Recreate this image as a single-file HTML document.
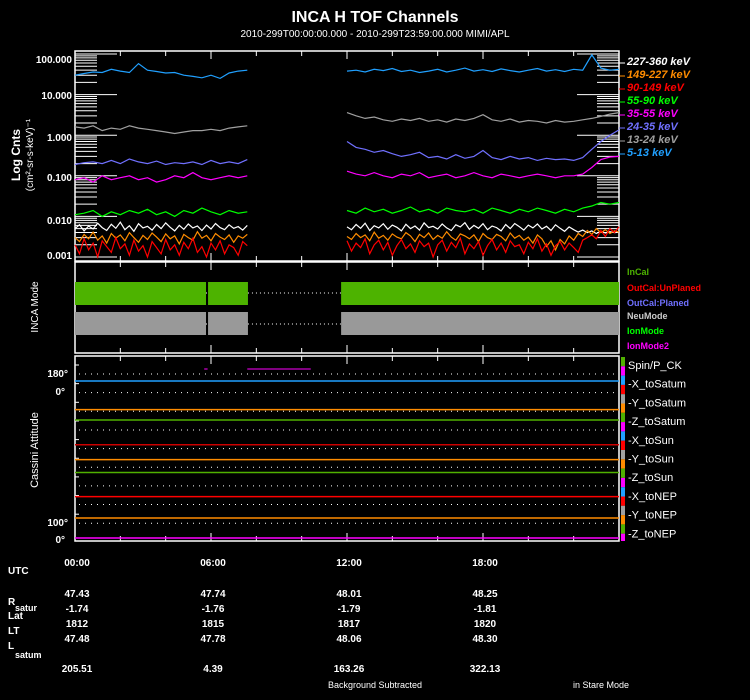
<!DOCTYPE html>
<html><head><meta charset="utf-8"><style>
html,body{margin:0;padding:0;background:#000;}
svg{display:block;font-family:"Liberation Sans",sans-serif;}
</style></head><body>
<svg id="c" width="750" height="700" viewBox="0 0 750 700" xmlns="http://www.w3.org/2000/svg">
<rect width="750" height="700" fill="#000"/>
<text x="375" y="22" fill="#fff" font-size="16" font-weight="bold" text-anchor="middle">INCA H TOF Channels</text>
<text x="375" y="37" fill="#fff" font-size="10" text-anchor="middle">2010-299T00:00:00.000 - 2010-299T23:59:00.000 MIMI/APL</text>
<g id="g"></g>
<text transform="translate(20,155) rotate(-90)" fill="#fff" font-size="12" font-weight="bold" text-anchor="middle">Log Cnts</text>
<text transform="translate(33,155) rotate(-90)" fill="#fff" font-size="10" text-anchor="middle">(cm²-sr-s-keV)⁻¹</text>
<text transform="translate(38,307) rotate(-90)" fill="#fff" font-size="10" text-anchor="middle">INCA Mode</text>
<text transform="translate(38,450) rotate(-90)" fill="#fff" font-size="11" text-anchor="middle">Cassini Attitude</text>
<g fill="#fff" font-size="10" font-weight="bold" text-anchor="end">
<text x="72" y="63">100.000</text><text x="72" y="99">10.000</text><text x="72" y="141">1.000</text><text x="72" y="181">0.100</text><text x="72" y="224">0.010</text><text x="72" y="259">0.001</text></g>
<g fill="#fff" font-size="10" font-weight="bold" text-anchor="end">
<text x="68" y="377">180°</text><text x="65" y="395">0°</text><text x="68" y="526">100°</text><text x="65" y="543">0°</text></g>
<g fill="#fff" font-size="10" font-weight="bold">
<text x="8" y="574">UTC</text>
<text x="8" y="605">R</text><text x="15" y="611" font-size="9">satur</text>
<text x="8" y="619">Lat</text><text x="8" y="634">LT</text>
<text x="8" y="649">L</text><text x="15" y="658" font-size="9">satum</text>
</g>
<g id="tbl" fill="#fff" font-size="10" font-weight="bold" text-anchor="middle"></g>
<text x="375" y="688" fill="#fff" font-size="9" text-anchor="middle">Background Subtracted</text>
<text x="601" y="688" fill="#fff" font-size="9" text-anchor="middle">in Stare Mode</text>
</svg>
<script>
const hours=[0,0.4,0.8,1.2,1.6,2,2.4,2.8,3.2,3.6,4,4.4,4.8,5.2,5.6,6,6.4,6.8,7.2,7.6,
12,12.4,12.8,13.2,13.6,14,14.4,14.8,15.2,15.6,16,16.4,16.8,17.2,17.6,18,18.4,18.8,19.2,19.6,20,20.4,20.8,21.2,21.6,22,22.4,22.8,23.2,23.6,24];
const ch5_13=[30,33,36,35,42,38,35,58,40,37,34,35,30,28,26,30,25,34,38,40, 38,40,36,42,39,44,37,40,35,38,42,36,40,45,38,41,37,43,39,36,40,44,38,41,37,42,40,95,45,40,42];
const ch13_24=[1.6,1.5,1.7,1.3,1.5,1.4,1.7,1.5,1.4,1.3,1.2,1.1,1.2,1.3,1.3,1.4,1.3,1.5,1.6,1.7, 3.6,3.0,2.6,2.8,2.4,2.2,2.5,2.3,2.6,2.2,2.4,2.1,2.5,2.3,2.6,3.2,2.4,2.2,2.5,2.1,2.3,2.2,2.0,2.3,2.1,2.2,2.4,2.6,2.9,3.3,3.6];
const ch24_35=[0.19,0.21,0.22,0.2,0.24,0.2,0.26,0.22,0.2,0.23,0.19,0.21,0.2,0.22,0.19,0.24,0.2,0.22,0.2,0.25, 0.7,0.5,0.45,0.38,0.42,0.35,0.3,0.33,0.38,0.28,0.3,0.26,0.33,0.27,0.3,0.42,0.28,0.25,0.3,0.26,0.28,0.24,0.27,0.25,0.26,0.24,0.28,0.45,0.7,1.0,1.35];
const ch35_55=[0.08,0.09,0.07,0.1,0.08,0.09,0.1,0.08,0.09,0.07,0.08,0.1,0.09,0.12,0.09,0.08,0.09,0.1,0.09,0.1, 0.13,0.11,0.1,0.12,0.1,0.09,0.11,0.1,0.12,0.09,0.1,0.11,0.09,0.1,0.12,0.1,0.09,0.11,0.1,0.09,0.1,0.11,0.1,0.09,0.1,0.1,0.11,0.16,0.25,0.29,0.3];
const ch55_90=[0.011,0.012,0.014,0.01,0.013,0.011,0.014,0.012,0.015,0.011,0.013,0.01,0.014,0.012,0.016,0.013,0.011,0.014,0.012,0.013, 0.014,0.012,0.016,0.013,0.015,0.012,0.014,0.017,0.013,0.015,0.012,0.016,0.014,0.013,0.015,0.012,0.016,0.014,0.012,0.015,0.013,0.016,0.014,0.012,0.015,0.013,0.016,0.018,0.022,0.02,0.022];
const fineHoursA=[0,0.2,0.4,0.6,0.8,1,1.2,1.4,1.6,1.8,2,2.2,2.4,2.6,2.8,3,3.2,3.4,3.6,3.8,4,4.2,4.4,4.6,4.8,5,5.2,5.4,5.6,5.8,6,6.2,6.4,6.6,6.8,7,7.2,7.4,7.6];
const fineHoursB=[12,12.2,12.4,12.6,12.8,13,13.2,13.4,13.6,13.8,14,14.2,14.4,14.6,14.8,15,15.2,15.4,15.6,15.8,16,16.2,16.4,16.6,16.8,17,17.2,17.4,17.6,17.8,18,18.2,18.4,18.6,18.8,19,19.2,19.4,19.6,19.8,20,20.2,20.4,20.6,20.8,21,21.2,21.4,21.6,21.8,22,22.2,22.4,22.6,22.8,23,23.2,23.4,23.6,23.8,24];
const ch90_149=[0.002,0.0012,0.0028,0.0015,0.0022,0.001,0.0025,0.0018,0.0013,0.003,0.0016,0.0021,0.0011,0.0026,0.0014,0.0019,0.001,0.0024,0.0017,0.0012,0.0027,0.0015,0.002,0.0011,0.0023,0.0016,0.0029,0.0013,0.0018,0.001,0.0022,0.0015,0.0025,0.0012,0.002,0.0017,0.0011,0.0024,0.0019,
0.0025,0.0014,0.0022,0.0017,0.0028,0.0012,0.002,0.0026,0.0015,0.0023,0.0011,0.0019,0.0027,0.0016,0.0021,0.0013,0.0025,0.0018,0.0022,0.001,0.002,0.0026,0.0014,0.0023,0.0017,0.0029,0.0012,0.0021,0.0016,0.0024,0.0011,0.0019,0.0027,0.0015,0.0022,0.0013,0.0025,0.0018,0.002,0.0012,0.0023,0.0016,0.0028,0.0014,0.0021,0.0011,0.0019,0.0024,0.0015,0.0022,0.0017,0.0013,0.0026,0.003,0.0035,0.0028,0.0045,0.0032,0.005,0.004,0.0055];
const ch149_227=[0.003,0.0024,0.0036,0.0028,0.0041,0.0026,0.0033,0.0022,0.0038,0.0029,0.0035,0.0025,0.004,0.003,0.0023,0.0034,0.0027,0.0039,0.0031,0.0024,0.0037,0.0028,0.0033,0.0021,0.0036,0.003,0.0026,0.0042,0.0029,0.0034,0.0025,0.0038,0.0031,0.0027,0.0035,0.0023,0.0033,0.0029,0.0036,
0.0032,0.0027,0.0038,0.003,0.0035,0.0025,0.0041,0.0029,0.0034,0.0026,0.0037,0.0031,0.0028,0.004,0.0033,0.0024,0.0036,0.003,0.0039,0.0027,0.0034,0.0029,0.0042,0.0031,0.0026,0.0037,0.0033,0.0028,0.0035,0.0024,0.0038,0.003,0.0027,0.0036,0.0032,0.0025,0.0039,0.0029,0.0034,0.0026,0.0031,0.0022,0.0035,0.0028,0.0018,0.0025,0.0015,0.0027,0.0021,0.0033,0.0026,0.0038,0.0032,0.0045,0.0036,0.005,0.004,0.0047,0.0038,0.0044,0.0041];
const ch227_360=[0.005,0.0062,0.0044,0.0058,0.0049,0.0068,0.0053,0.0045,0.0064,0.0051,0.0072,0.0047,0.0059,0.0043,0.0066,0.0052,0.0057,0.0046,0.0063,0.005,0.0069,0.0054,0.0044,0.006,0.0048,0.0065,0.0052,0.0058,0.0045,0.0061,0.0049,0.0067,0.0053,0.0047,0.0062,0.0051,0.0056,0.0046,0.006,
0.0055,0.0047,0.0063,0.0051,0.0068,0.0045,0.0059,0.0052,0.0066,0.0048,0.0061,0.0054,0.0044,0.0064,0.005,0.0058,0.0046,0.0069,0.0053,0.0057,0.0049,0.0065,0.0052,0.0045,0.0062,0.0055,0.007,0.0048,0.006,0.0051,0.0066,0.0047,0.0058,0.0053,0.0044,0.0063,0.005,0.0067,0.0056,0.0046,0.0061,0.0052,0.0065,0.0049,0.0057,0.0045,0.0062,0.0051,0.0043,0.0055,0.0047,0.0041,0.0046,0.004,0.0044,0.0038,0.0043,0.0039,0.0042,0.004,0.0041];
const channelNames=["227-360 keV","149-227 keV","90-149 keV","55-90 keV","35-55 keV","24-35 keV","13-24 keV","5-13 keV"];
const channelColors=["#ffffff","#ff8c00","#ff0000","#00ff00","#ff00ff","#7070ff","#a0a0a0","#20a0ff"];
const modeIntervals=[[0,5.78],[5.87,7.63],[11.74,24]];
const attitudeNames=["Spin/P_CK","-X_toSatum","-Y_toSatum","-Z_toSatum","-X_toSun","-Y_toSun","-Z_toSun","-X_toNEP","-Y_toNEP","-Z_toNEP"];
const attitudeLevels=[86.5,71,65.4,52,44,37,24,12.4,1.6];
const attitudeColors=["#20a0ff","#ff8c00","#50b000","#cc0000","#ff8c00","#50b000","#ff0000","#ff8c00","#ff00ff"];
const tableHours=[0,6,12,18];
const utcLabels=["00:00","06:00","12:00","18:00"];
const rSatur=["47.43","47.74","48.01","48.25"];
const latVals=["-1.74","-1.76","-1.79","-1.81"];
const ltVals=["1812","1815","1817","1820"];
const lSatum=["47.48","47.78","48.06","48.30"];
const extraVals=["205.51","4.39","163.26","322.13"];

const NS="http://www.w3.org/2000/svg";
const g=document.getElementById('g');
const X0=75,X1=619;
const xs=h=>X0+(X1-X0)*h/24;
const ys=v=>257-40.6*(Math.log10(v)+3);
const ya=v=>541-v*1.85;
function mk(tag,attrs,parent){const e=document.createElementNS(NS,tag);for(const k in attrs)e.setAttribute(k,attrs[k]);(parent||g).appendChild(e);return e;}

const p1=mk('rect',{x:X0,y:51,width:X1-X0,height:210,fill:'none',stroke:'#fff','stroke-width':1.5});


const p2=mk('rect',{x:X0,y:262,width:X1-X0,height:91,fill:'none',stroke:'#fff','stroke-width':1.5});


const p3=mk('rect',{x:X0,y:356,width:X1-X0,height:185,fill:'none',stroke:'#fff','stroke-width':1.5});



[[51,261],[262,353],[356,541]].forEach(([t,b])=>{
  for(let h=2;h<24;h+=2){const L=h%6===0?8:5;const x=xs(h);
    mk('line',{x1:x,y1:t,x2:x,y2:t+L,stroke:'#fff','stroke-width':1});
    mk('line',{x1:x,y1:b,x2:x,y2:b-L,stroke:'#fff','stroke-width':1});}
});
for(let d=-3;d<=2;d++){for(let m=1;m<10;m++){const v=m*Math.pow(10,d);if(v>120)break;const y=ys(v);
  const L=m===1?42:22;
  mk('line',{x1:X0,y1:y,x2:X0+L,y2:y,stroke:'#fff','stroke-width':1});
  mk('line',{x1:X1,y1:y,x2:X1-L,y2:y,stroke:'#fff','stroke-width':1});}}

const fineHours=fineHoursA.concat(fineHoursB);
const series=[ch227_360,ch149_227,ch90_149,ch55_90,ch35_55,ch24_35,ch13_24,ch5_13];
const order=[7,6,5,4,3,0,1,2];
order.forEach(i=>{
  const vals=series[i];const hh=i<3?fineHours:hours;let d='';
  const n=Math.min(vals.length,hh.length);
  for(let k=0;k<n;k++){const cmd=(k===0||hh[k]-hh[k-1]>1)?'M':'L';d+=cmd+xs(hh[k]).toFixed(1)+' '+ys(vals[k]).toFixed(1)+' ';}
  const p=mk('path',{d:d,fill:'none',stroke:channelColors[i],'stroke-width':1.2});
  
  
});
channelNames.forEach((n,i)=>{
  const y=61+i*13;
  mk('line',{x1:X1,y1:y+2,x2:X1+6,y2:y+2,stroke:channelColors[i],'stroke-width':1});
  const t=mk('text',{x:627,y:y+4,fill:channelColors[i],'font-size':11,'font-weight':'bold','font-style':'italic'});
  t.textContent=n;
  
  
});

modeIntervals.forEach(([a,b])=>{
  const r1=mk('rect',{x:xs(a),y:282,width:xs(b)-xs(a),height:23,fill:'#4db300'});
  
  
  const r2=mk('rect',{x:xs(a),y:312,width:xs(b)-xs(a),height:23,fill:'#999999'});
  
  
});
for(let k=0;k<modeIntervals.length-1;k++){const a=xs(modeIntervals[k][1]),b=xs(modeIntervals[k+1][0]);
  [293,324].forEach(y=>mk('line',{x1:a,y1:y,x2:b,y2:y,stroke:'#fff','stroke-width':1,'stroke-dasharray':'1 3'}));}
[["InCal","#4db300",275],["OutCal:UnPlaned","#ff0000",291],["OutCal:Planed","#7070ff",306],["NeuMode","#cccccc",319],["IonMode","#00ff00",334],["IonMode2","#ff00ff",349]].forEach(([n,c,y])=>{
  const t=mk('text',{x:627,y:y,fill:c,'font-size':9,'font-weight':'bold'});t.textContent=n;
  
  
});

for(let k=0;k<9;k++){const y=374+k*18.65;
  mk('line',{x1:X0+4,y1:y,x2:X1-4,y2:y,stroke:'#fff','stroke-width':1,'stroke-dasharray':'1 5'});
  mk('line',{x1:X0,y1:y-9,x2:X0+4,y2:y-9,stroke:'#fff','stroke-width':1});}
attitudeLevels.forEach((v,i)=>{
  const l=mk('line',{x1:X0,y1:ya(v),x2:X1,y2:ya(v),stroke:attitudeColors[i],'stroke-width':1.5});
  
  
});
mk('line',{x1:xs(5.7),y1:369,x2:xs(5.85),y2:369,stroke:'#ff00ff','stroke-width':1});
mk('line',{x1:xs(7.6),y1:369,x2:xs(10.4),y2:369,stroke:'#ff00ff','stroke-width':1});
const barCols=["#50b000","#ff00ff","#20a0ff","#ff0000","#a0a0a0","#ff8c00"];
for(let k=0;k<20;k++){const y=357+k*9.3;mk('rect',{x:621,y:y,width:4,height:Math.min(9.3,541-y),fill:barCols[k%6]});}
attitudeNames.forEach((n,i)=>{
  const t=mk('text',{x:628,y:369+i*18.7,fill:'#fff','font-size':11});t.textContent=n;
  
  
});

const tbl=document.getElementById('tbl');
const rows=[[utcLabels,566],[rSatur,597],[latVals,612],[ltVals,627],[lSatum,642],[extraVals,672]];
rows.forEach(([arr,y])=>arr.forEach((s,i)=>{const t=mk('text',{x:xs(tableHours[i])+2,y:y},tbl);t.textContent=s;}));
</script>
</body></html>
